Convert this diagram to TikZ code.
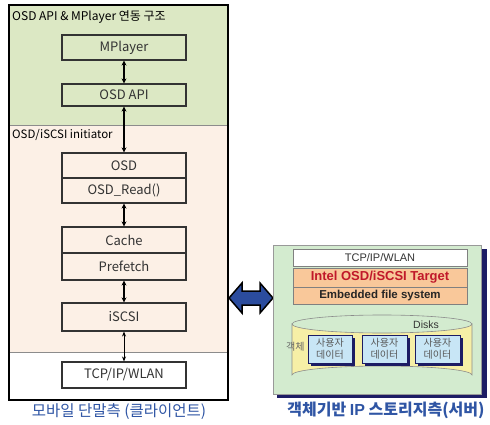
\documentclass[tikz,border=0pt]{standalone}
\usepackage{fontspec}
\setmainfont{Noto Sans CJK KR}
\newfontfamily\arialf{Liberation Sans}
\usetikzlibrary{arrows.meta,shapes.geometric}
\definecolor{topgreen}{HTML}{DCE8C4}
\definecolor{peach}{HTML}{FCF0E6}
\definecolor{srvgreen}{HTML}{D3EBCF}
\definecolor{orangebox}{HTML}{F9C89A}
\definecolor{cylyellow}{HTML}{F6EFA6}
\definecolor{userblue}{HTML}{C8E6F6}
\definecolor{navy}{HTML}{1C1C64}
\definecolor{capblue}{HTML}{2F55A4}
\definecolor{arrowblue}{HTML}{2B4C9E}
\definecolor{intelred}{HTML}{C0182A}
\tikzset{
  lbox/.style={draw=black!80, line width=1.1pt, minimum width=124pt, inner sep=0pt, anchor=center, font=\fontsize{13}{15}\selectfont, text=black!80},
  darr/.style={{Stealth[length=5pt,width=5pt]}-{Stealth[length=5pt,width=5pt]}, line width=1.5pt, black},
  tarr/.style={{Stealth[length=5pt,width=4pt]}-{Stealth[length=5pt,width=4pt]}, line width=0.8pt, black},
  sbox/.style={draw=black!50, line width=0.6pt, minimum width=174pt, inner sep=0pt, anchor=center},
  ubox/.style={draw=navy, line width=0.8pt, fill=userblue, minimum width=44pt, minimum height=28pt, inner sep=0pt, align=center, font=\fontsize{10}{12}\selectfont, text=black!65},
  ushadow/.style={fill=navy}
}
\begin{document}
\begin{tikzpicture}[x=1pt,y=-1pt]
\useasboundingbox (0,0) rectangle (490,425);
% client regions
\fill[topgreen] (9,5) rectangle (228,125);
\fill[peach] (9,125) rectangle (228,352);
\fill[white] (9,352) rectangle (228,400);
\draw[black!45, line width=0.6pt] (9,125) -- (228,125);
\draw[black!45, line width=0.6pt] (9,352) -- (228,352);
\draw[black, line width=2pt] (9,5) rectangle (228,400);
\node[anchor=west, inner sep=0pt, font=\fontsize{12}{14}\selectfont] (t1) at (12,17) {OSD API \& MPlayer 연동 구조};
\node[anchor=west, inner sep=0pt, font=\fontsize{11.5}{13}\selectfont] (t2) at (12,135) {OSD/iSCSI initiator};
% boxes
\node[lbox, minimum height=25pt] (mplayer) at (124,47.5) {MPlayer};
\node[lbox, minimum height=22pt] (osdapi) at (124,95) {OSD API};
\node[lbox, minimum height=25pt, fill=peach] (osd) at (124,165.5) {OSD};
\node[lbox, minimum height=25pt, fill=peach] (osdread) at (124,190.5) {OSD\_Read()};
\node[lbox, minimum height=26pt, fill=peach] (cache) at (124,240) {Cache};
\node[lbox, minimum height=27pt, fill=peach] (prefetch) at (124,266.5) {Prefetch};
\node[lbox, minimum height=28pt, fill=peach] (iscsi) at (124,317) {iSCSI};
\node[lbox, minimum height=26pt, fill=white] (tcp) at (124,375) {TCP/IP/WLAN};
% arrows
\draw[darr] (mplayer.south) -- (osdapi.north);
\draw[darr] (osdapi.south) -- (osd.north);
\draw[darr] (osdread.south) -- (cache.north);
\draw[darr] (prefetch.south) -- (iscsi.north);
\draw[tarr] (iscsi.south) -- (tcp.north);
\node[font=\fontsize{15.5}{17}\selectfont, text=capblue, inner sep=0pt] (cap1) at (119,412) {모바일 단말측 (클라이언트)};
% block arrow
\filldraw[fill=arrowblue, draw=black, line width=1.5pt, line join=miter]
  (229,298) -- (242,283) -- (242,291) -- (260,291) -- (260,283) -- (273,298)
  -- (260,313) -- (260,305) -- (242,305) -- (242,313) -- cycle;
% server
\fill[navy] (277,249) rectangle (487,398);
\filldraw[fill=srvgreen, draw=black!40, line width=0.5pt] (273,245) rectangle (481,394);
\node[sbox, fill=white, minimum height=17pt, font=\arialf\fontsize{11}{12}\selectfont, text=black!80] (stcp) at (380,257.5) {TCP/IP/WLAN};
\node[sbox, fill=orangebox, minimum height=19pt, font=\arialf\bfseries\fontsize{13}{14}\selectfont, text=intelred] (intel) at (380,277.5) {Intel OSD/iSCSI Target};
\node[sbox, fill=orangebox, minimum height=17pt, font=\arialf\bfseries\fontsize{11.5}{13}\selectfont, text=black!85] (efs) at (380,295.5) {Embedded file system};
% cylinder
\filldraw[fill=cylyellow, draw=black!45, line width=0.6pt]
  (292,324) -- (292,375) arc[start angle=180, end angle=360, x radius=90, y radius=9] -- (472,324)
  arc[start angle=0, end angle=180, x radius=90, y radius=9] -- cycle;
\draw[black!45, line width=0.6pt] (292,324) arc[start angle=180, end angle=360, x radius=90, y radius=9];
\node[font=\arialf\fontsize{10.5}{12}\selectfont, text=black!80, inner sep=0pt] (disks) at (426,325) {Disks};
\node[anchor=west, font=\fontsize{10}{12}\selectfont, text=black!60, inner sep=0pt] (obj) at (286,347) {객체};
% user data boxes
\fill[ushadow] (311,338) rectangle (355,366);
\fill[ushadow] (365,338) rectangle (410,366);
\fill[ushadow] (418,338) rectangle (463,366);
\node[ubox] (u1) at (330,349) {사용자\\데이터};
\node[ubox, minimum width=45pt] (u2) at (384.5,349) {사용자\\데이터};
\node[ubox, minimum width=45pt] (u3) at (437.5,349) {사용자\\데이터};
\node[font=\bfseries\fontsize{16}{18}\selectfont, text=capblue, inner sep=0pt] (cap2) at (386,410) {객체기반 {\arialf IP} 스토리지측(서버)};
\end{tikzpicture}
\end{document}
